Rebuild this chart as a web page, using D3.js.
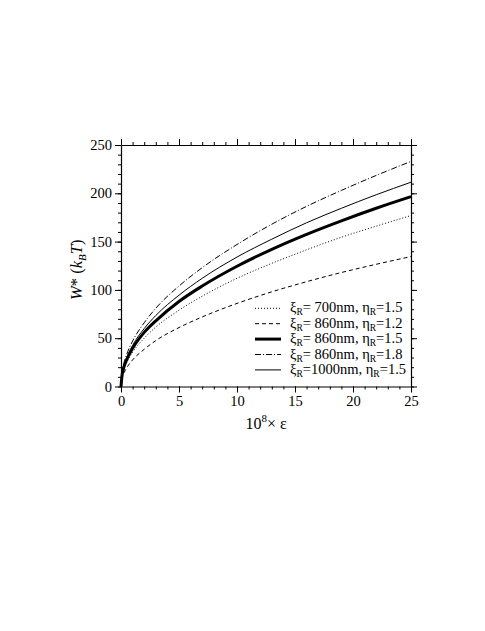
<!DOCTYPE html>
<html>
<head>
<meta charset="utf-8">
<script src="https://cdn.jsdelivr.net/npm/d3@7"></script>
<style>
  body { margin: 0; background: #fff; }
  text { font-family: "Liberation Serif", "Times New Roman", serif; fill: #000; }
</style>
</head>
<body>
<div id="chart"></div>
<script>
// Data
var epsilon = [0, 0.1, 0.25, 0.5, 1, 2, 3, 5, 7, 10, 13, 16, 19, 22, 25];
var w700_15 = [0, 11.2, 18, 25, 35.5, 50, 61.5, 79, 93.5, 112, 127.5, 141.5, 154.5, 166, 177];
var w860_12 = [0, 8.6, 13.8, 19.5, 27.5, 38.5, 47.5, 61, 72, 86, 98, 108.5, 118, 126.5, 134.5];
var w860_15 = [0, 12.4, 20, 28, 39.5, 56, 68, 88, 104, 124.5, 142, 157.5, 171.5, 184.5, 196.5];
var w860_18 = [0, 14.7, 24, 33.5, 47, 66, 81, 104, 123, 147, 168, 186.5, 203, 218.5, 233];
var w1000_15 = [0, 13.4, 21.5, 30, 42.5, 60, 73.5, 94.5, 112, 134, 152.5, 169.5, 184.5, 198.5, 211.5];

var xTicks = [0, 5, 10, 15, 20, 25];
var yTicks = [0, 50, 100, 150, 200, 250];

// legend labels: [xi value, eta value]
var legendXi = [" 700nm", " 860nm", " 860nm", " 860nm", "1000nm"];
var legendEta = ["1.5", "1.2", "1.5", "1.8", "1.5"];

var series = [
    {values: w700_15, width: 1, dash: "1,2"},
    {values: w860_12, width: 1, dash: "4,3"},
    {values: w860_15, width: 3, dash: null},
    {values: w860_18, width: 1, dash: "6,2,1,2"},
    {values: w1000_15, width: 1, dash: null}
];

// SVG area
var svgWidth = 485;
var svgHeight = 631;

var margin = {top: 145, left: 121, right: 74, bottom: 244.5};
var width = svgWidth - margin.left - margin.right;
var height = svgHeight - margin.top - margin.bottom;

var svg = d3.select("#chart")
    .append("svg")
    .attr("width", svgWidth)
    .attr("height", svgHeight);

var chartGroup = svg.append("g").attr("transform", `translate(${margin.left}, ${margin.top})`);

// Scales
var xScale = d3.scaleLinear().domain([0, 25]).range([0, width]);
var yScale = d3.scaleLinear().domain([0, 250]).range([height, 0]);

var xMinor = d3.range(0, 26, 1);
var yMinor = d3.range(0, 251, 10);

// minor ticks first, then major ticks with labels
function drawAxis(axisFn, scale, minor, major, transform, labels) {
    chartGroup.append("g")
        .attr("transform", transform)
        .call(axisFn(scale).tickValues(minor).tickSize(3).tickSizeOuter(0).tickFormat(""))
        .call(g => g.select(".domain").remove());
    var g = chartGroup.append("g")
        .attr("transform", transform)
        .call(axisFn(scale).tickValues(major).tickSize(6).tickSizeOuter(0)
            .tickPadding(labels ? 3 : 0)
            .tickFormat(labels ? d3.format("d") : ""));
    g.select(".domain").attr("stroke", "#000").attr("stroke-width", 1.2);
    g.selectAll("text").style("font-size", "14.5px").attr("fill", "#000");
    return g;
}

drawAxis(d3.axisBottom, xScale, xMinor, xTicks, `translate(0, ${height})`, true);
drawAxis(d3.axisTop, xScale, xMinor, xTicks, "translate(0, 0)", false);
drawAxis(d3.axisLeft, yScale, yMinor, yTicks, "translate(0, 0)", true);
drawAxis(d3.axisRight, yScale, yMinor, yTicks, `translate(${width}, 0)`, false);

chartGroup.selectAll(".tick line").attr("stroke", "#000");

// Curves
var line = d3.line()
    .x((d, i) => xScale(epsilon[i]))
    .y(d => yScale(d))
    .curve(d3.curveMonotoneX);

chartGroup.selectAll(".curve")
    .data(series)
    .enter()
    .append("path")
    .attr("class", "curve")
    .attr("fill", "none")
    .attr("stroke", "#000")
    .attr("stroke-width", d => d.width)
    .attr("stroke-dasharray", d => d.dash)
    .attr("d", d => line(d.values));

// Legend
var legend = chartGroup.append("g")
    .attr("transform", `translate(134, 163.3)`);

var rowH = 15.4;
series.forEach(function(s, i) {
    var row = legend.append("g").attr("transform", `translate(0, ${i * rowH})`);
    row.append("line")
        .attr("x1", 0).attr("x2", 26)
        .attr("y1", 0).attr("y2", 0)
        .attr("stroke", "#000")
        .attr("stroke-width", s.width)
        .attr("stroke-dasharray", s.dash);
    var t = row.append("text")
        .attr("x", 35)
        .attr("y", 4)
        .style("font-size", "14.5px");
    t.append("tspan").text("\u03be");
    t.append("tspan").attr("dy", 3).style("font-size", "9.5px").text("R");
    t.append("tspan").attr("dy", -3).text("=" + legendXi[i] + ", \u03b7");
    t.append("tspan").attr("dy", 3).style("font-size", "9.5px").text("R");
    t.append("tspan").attr("dy", -3).text("=" + legendEta[i]);
});

// Axis labels
var xLabel = chartGroup.append("text")
    .attr("x", width / 2)
    .attr("y", height + 42)
    .attr("text-anchor", "middle")
    .style("font-size", "16px");
xLabel.append("tspan").text("10");
xLabel.append("tspan").attr("dy", -7).style("font-size", "11px").text("8");
xLabel.append("tspan").attr("dy", 7).text("\u00d7 \u03b5");

var yLabel = chartGroup.append("text")
    .attr("transform", `translate(-39, ${height / 2 + 4}) rotate(-90)`)
    .attr("text-anchor", "middle")
    .style("font-size", "16.5px");
yLabel.append("tspan").style("font-style", "italic").text("W");
yLabel.append("tspan").text("* (");
yLabel.append("tspan").style("font-style", "italic").text("k");
yLabel.append("tspan").attr("dy", 4).style("font-size", "11px").style("font-style", "italic").text("B");
yLabel.append("tspan").attr("dy", -4).style("font-style", "italic").text("T");
yLabel.append("tspan").text(")");
</script>
</body>
</html>
